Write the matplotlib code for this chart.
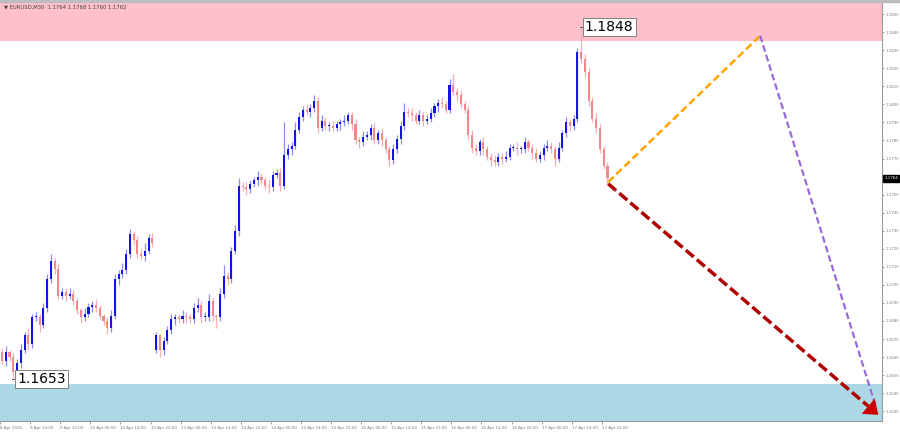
import numpy as np
import matplotlib
matplotlib.use("Agg")
import matplotlib.pyplot as plt
from matplotlib.patches import FancyArrowPatch

# ---------------- data ----------------
closes = [1.1663, 1.1668, 1.1665, 1.1657, 1.1662, 1.1669, 1.1677, 1.1672, 1.1687, 1.1687,
          1.1683, 1.1692, 1.1708, 1.1718, 1.1714, 1.1699, 1.1701, 1.1699, 1.1700, 1.1696,
          1.1691, 1.1687, 1.1689, 1.1693, 1.1694, 1.1692, 1.1688, 1.1685, 1.1681, 1.1688,
          1.1708, 1.1711, 1.1713, 1.1722, 1.1733, 1.1730, 1.1722, 1.1721, 1.1724, 1.1731,
          1.1728, 1.1677, 1.1669, 1.1674, 1.1680, 1.1686, 1.1687, 1.1686, 1.1688, 1.1687,
          1.1686, 1.1692, 1.1694, 1.1687, 1.1687, 1.1696, 1.1688, 1.1687, 1.1700, 1.1710,
          1.1708, 1.1724, 1.1735, 1.1760, 1.1759, 1.1758, 1.1761, 1.1763, 1.1765, 1.1763,
          1.1760, 1.1759, 1.1766, 1.1767, 1.1760, 1.1777, 1.1780, 1.1782, 1.1791, 1.1798,
          1.1802, 1.1801, 1.1803, 1.1807, 1.1792, 1.1796, 1.1793, 1.1793, 1.1792, 1.1794,
          1.1795, 1.1796, 1.1799, 1.1794, 1.1785, 1.1784, 1.1787, 1.1788, 1.1792, 1.1785,
          1.1789, 1.1785, 1.1780, 1.1774, 1.1780, 1.1786, 1.1793, 1.1801, 1.1800, 1.1799,
          1.1796, 1.1799, 1.1796, 1.1797, 1.1800, 1.1804, 1.1806, 1.1805, 1.1802, 1.1816,
          1.1812, 1.1810, 1.1805, 1.1802, 1.1788, 1.1781, 1.1779, 1.1784, 1.1780, 1.1776,
          1.1774, 1.1773, 1.1776, 1.1775, 1.1776, 1.1781, 1.1781, 1.1780, 1.1780, 1.1784,
          1.1781, 1.1778, 1.1775, 1.1777, 1.1781, 1.1782, 1.1780, 1.1775, 1.1781, 1.1789,
          1.1795, 1.1793, 1.1797, 1.1834, 1.1830, 1.1823, 1.1807, 1.1797, 1.1792, 1.1780,
          1.1771, 1.1764]
first_open = 1.1668
gap_opens = {41: 1.1669}

upper_wick_pips = [2, 3, 1, 2, 2, 3, 2, 4, 2, 3,
                   2, 3, 3, 4, 2, 3, 2, 2, 3, 2,
                   2, 1, 3, 2, 2, 3, 2, 1, 2, 3,
                   3, 2, 4, 3, 3, 2, 2, 3, 4, 2,
                   3, 2, 1, 2, 2, 3, 2, 2, 3, 2,
                   2, 3, 4, 2, 3, 4, 2, 1, 3, 6,
                   2, 2, 3, 4, 2, 3, 2, 2, 3, 2,
                   2, 3, 2, 2, 3, 18, 3, 2, 4, 3,
                   2, 3, 2, 3, 2, 3, 2, 2, 3, 2,
                   2, 3, 2, 2, 3, 2, 3, 2, 2, 3,
                   2, 3, 2, 2, 3, 2, 3, 5, 2, 3,
                   2, 3, 2, 2, 3, 2, 2, 3, 2, 3,
                   6, 2, 3, 2, 2, 3, 2, 2, 3, 2,
                   2, 3, 2, 2, 3, 2, 2, 3, 2, 3,
                   2, 2, 3, 2, 2, 3, 2, 2, 3, 2,
                   3, 2, 2, 2, 14, 3, 2, 2, 3, 2,
                   2, 2]
lower_wick_pips = [2, 3, 2, 4, 2, 3, 2, 3, 2, 2,
                   4, 2, 2, 2, 3, 2, 2, 3, 2, 2,
                   2, 3, 2, 2, 3, 2, 2, 2, 3, 2,
                   2, 3, 2, 2, 2, 3, 2, 2, 3, 2,
                   2, 2, 4, 3, 2, 2, 3, 2, 2, 3,
                   2, 2, 2, 3, 2, 2, 3, 6, 2, 2,
                   3, 2, 2, 3, 2, 3, 2, 2, 3, 2,
                   2, 3, 2, 2, 3, 2, 2, 3, 2, 2,
                   2, 2, 3, 2, 3, 2, 2, 3, 2, 2,
                   3, 2, 2, 3, 2, 3, 2, 2, 3, 2,
                   2, 3, 2, 3, 2, 2, 3, 2, 2, 3,
                   2, 2, 3, 2, 2, 2, 3, 2, 2, 2,
                   2, 3, 2, 2, 3, 3, 2, 2, 3, 2,
                   3, 2, 2, 3, 2, 2, 2, 3, 2, 2,
                   2, 3, 2, 2, 3, 2, 2, 4, 2, 2,
                   2, 3, 2, 2, 2, 3, 3, 2, 3, 2,
                   2, 3]

time_labels = ["8 Apr 2026", "9 Apr 14:00", "9 Apr 22:00", "10 Apr 06:00", "10 Apr 14:00",
               "10 Apr 22:00", "13 Apr 06:00", "13 Apr 14:00", "13 Apr 22:00", "14 Apr 06:00",
               "14 Apr 14:00", "14 Apr 22:00", "15 Apr 06:00", "15 Apr 14:00", "15 Apr 22:00",
               "16 Apr 06:00", "16 Apr 14:00", "16 Apr 22:00", "17 Apr 06:00", "17 Apr 14:00",
               "17 Apr 22:00"]
bars_per_label = 8

price_ticks = [1.1635, 1.1645, 1.1655, 1.1665, 1.1675, 1.1685, 1.1695, 1.1705, 1.1715,
               1.1725, 1.1735, 1.1745, 1.1755, 1.1775, 1.1785, 1.1795, 1.1805, 1.1815,
               1.1825, 1.1835, 1.1845, 1.1855]

resistance_zone = (1.1840, 1.1870)
support_zone = (1.1600, 1.1650)

high_mark = (154, 1.1848)
low_mark = (3, 1.1653)
current_price = 1.1764

# forecast paths (bar index, price)
orange_x = [161.2, 201.6]
orange_y = [1.1762, 1.1843]
purple_x = [201.6, 232.3]
purple_y = [1.1843, 1.1638]
red_x = [161.2, 233.6]
red_y = [1.1761, 1.1632]

header = "\u25BC EURUSD,M30  1.1764 1.1768 1.1760 1.1762"

# ---------------- plot ----------------
W, H = 900, 432
fig = plt.figure(figsize=(W / 100, H / 100), dpi=100)
ax_left, ax_right = 0.0, 882 / W
ax_top_px, ax_bot_px = 2, 421
ax = fig.add_axes([ax_left, (H - ax_bot_px) / H, ax_right - ax_left, (ax_bot_px - ax_top_px) / H])

ymin, ymax = 1.16296, 1.18617
xmin, xmax = -0.53, 234.0
ax.set_xlim(xmin, xmax)
ax.set_ylim(ymin, ymax)

ax.axhspan(resistance_zone[0], resistance_zone[1], color="#ffc0cb", zorder=0, lw=0)
ax.axhspan(support_zone[0], support_zone[1], color="#add8e6", zorder=0, lw=0)

closes_a = np.array(closes)
opens_a = np.r_[first_open, closes_a[:-1]]
for k, v in gap_opens.items():
    opens_a[k] = v
highs = np.maximum(opens_a, closes_a) + np.array(upper_wick_pips) * 1e-4
lows = np.minimum(opens_a, closes_a) - np.array(lower_wick_pips) * 1e-4
idx = np.arange(len(closes_a))
up = closes_a >= opens_a

bull_body, bull_wick = "#1414e6", "#8c8cf5"
bear_body, bear_wick = "#f08a8a", "#f6b0b0"

ax.vlines(idx[up], lows[up], highs[up], color=bull_wick, lw=0.9, zorder=2)
ax.vlines(idx[~up], lows[~up], highs[~up], color=bear_wick, lw=0.9, zorder=2)
body_h = np.maximum(np.abs(closes_a - opens_a), 0.00006)
body_b = np.minimum(opens_a, closes_a)
ax.bar(idx[up], body_h[up], bottom=body_b[up], width=0.55, color=bull_body, lw=0, zorder=3)
ax.bar(idx[~up], body_h[~up], bottom=body_b[~up], width=0.55, color=bear_body, lw=0, zorder=3)

# forecast lines
ax.plot(orange_x, orange_y, color="#ffa500", lw=1.8, ls=(0, (3, 1.5)), zorder=4)
ax.plot(purple_x, purple_y, color="#9a6ad8", lw=1.6, ls=(0, (3, 1.5)), zorder=4)
ax.plot([red_x[0], red_x[1] - 3.2], [red_y[0], red_y[1] + 0.00057], color="#b00000", lw=2.5,
        ls=(0, (3, 1.2)), zorder=5)
arrow = FancyArrowPatch((red_x[1] - 4.0, red_y[1] + 0.00071), (red_x[1], red_y[1]),
                        arrowstyle="-|>,head_length=6,head_width=4.5", mutation_scale=1.6,
                        color="#cc0000", lw=0, zorder=6)
ax.add_patch(arrow)

# price marks
box = dict(boxstyle="square,pad=0.15", fc="white", ec="#808080", lw=0.7)
ax.plot([high_mark[0] - 0.3, high_mark[0] + 0.9], [high_mark[1]] * 2, color="#606060", lw=0.7, zorder=6)
ax.text(high_mark[0] + 1.0, high_mark[1], f"{high_mark[1]:.4f}", fontsize=10, va="center",
        ha="left", bbox=box, zorder=7, color="black")
ax.plot([low_mark[0] - 0.3, low_mark[0] + 0.9], [low_mark[1]] * 2, color="#606060", lw=0.7, zorder=6)
ax.text(low_mark[0] + 1.0, low_mark[1], f"{low_mark[1]:.4f}", fontsize=10, va="center",
        ha="left", bbox=box, zorder=7, color="black")

# axes styling
for s in ["top", "left"]:
    ax.spines[s].set_visible(False)
ax.spines["right"].set_color("#9a9a9a")
ax.spines["bottom"].set_color("#9a9a9a")
ax.spines["right"].set_linewidth(0.8)
ax.spines["bottom"].set_linewidth(0.8)
ax.yaxis.tick_right()
ax.set_yticks(price_ticks)
ax.set_yticklabels([f"{p:.4f}" for p in price_ticks])
ax.tick_params(axis="y", labelsize=2.9, colors="#7a7a7a", length=1.5, width=0.5, pad=1)

xt = [bars_per_label * k - 0.5 for k in range(len(time_labels))]
ax.set_xticks(xt)
ax.set_xticklabels(time_labels, ha="left")
ax.tick_params(axis="x", labelsize=2.9, colors="#7a7a7a", length=2, width=0.5, pad=1.5)

# current price label
ax.annotate(f"{current_price:.4f}", xy=(1.0, current_price), xycoords=("axes fraction", "data"),
            xytext=(1.6, 0), textcoords="offset points", fontsize=2.9, color="white",
            va="center", ha="left", annotation_clip=False,
            bbox=dict(boxstyle="square,pad=0.3", fc="black", ec="black"))

# top strip and header
fig.patches.append(plt.Rectangle((0, 1 - 2 / H), 1, 2 / H, transform=fig.transFigure,
                                 color="#bdbdbd", zorder=0))
fig.text(4 / W, 1 - 7 / H, header, fontsize=3.8, color="#404040", va="center", ha="left")

fig.savefig("out.png", dpi=100)
